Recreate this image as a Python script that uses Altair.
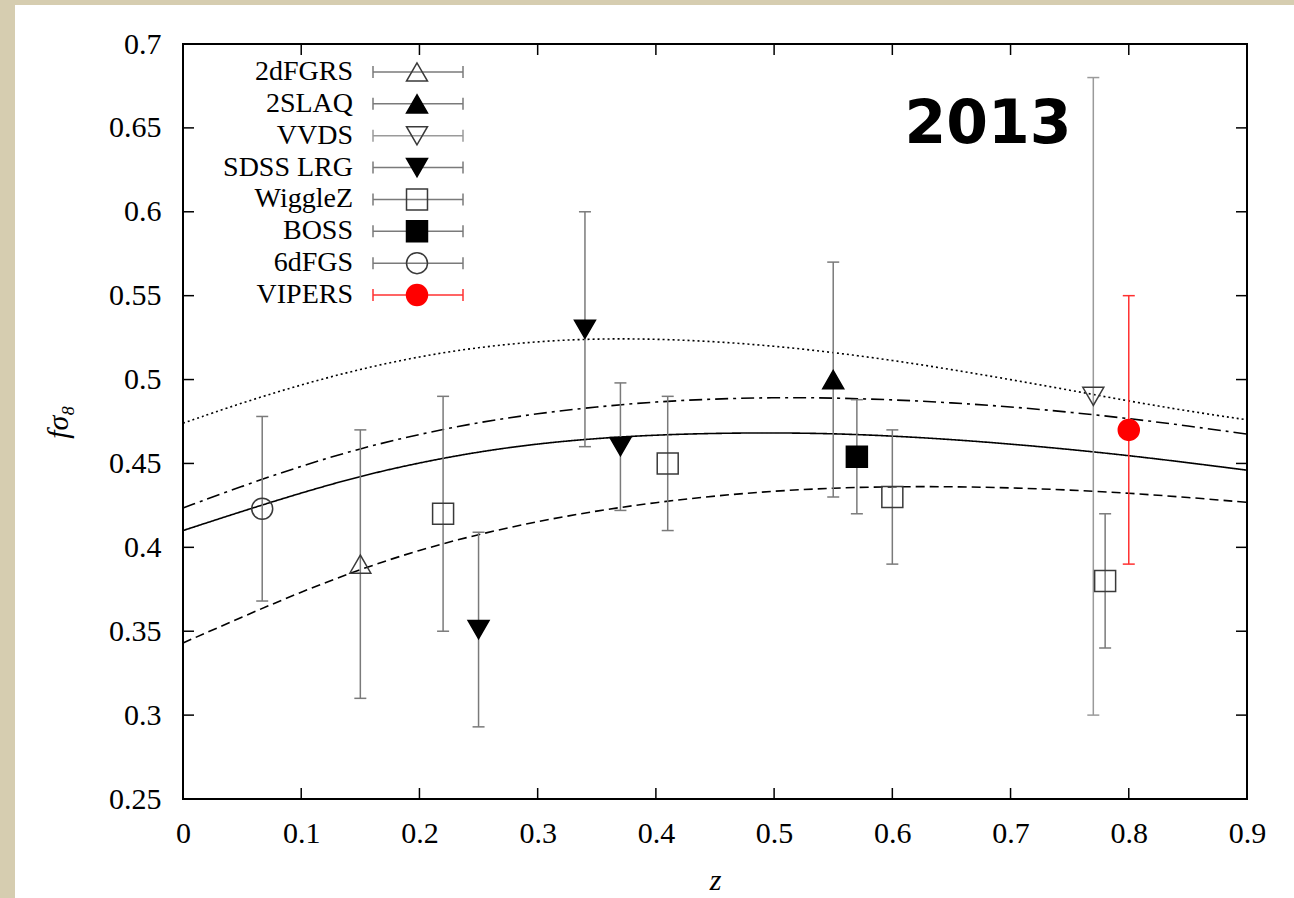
import altair as alt
import pandas as pd

# ---------------- data ----------------
names = ["2dFGRS", "2SLAQ", "VVDS", "SDSS LRG", "WiggleZ", "BOSS", "6dFGS", "VIPERS"]
shapes = ["triangle-up", "triangle-up", "triangle-down", "triangle-down",
          "square", "square", "circle", "circle"]

pt_survey = ["6dFGS", "2dFGRS", "WiggleZ", "SDSS LRG", "SDSS LRG", "SDSS LRG", "WiggleZ",
             "2SLAQ", "BOSS", "WiggleZ", "VVDS", "WiggleZ", "VIPERS"]
pt_z = [0.067, 0.15, 0.22, 0.25, 0.34, 0.37, 0.41, 0.55, 0.57, 0.60, 0.77, 0.78, 0.80]
pt_f = [0.423, 0.39, 0.42, 0.351, 0.53, 0.460, 0.45, 0.50, 0.454, 0.43, 0.49, 0.38, 0.47]
pt_lo = [0.368, 0.31, 0.35, 0.293, 0.46, 0.422, 0.41, 0.43, 0.420, 0.39, 0.30, 0.34, 0.39]
pt_hi = [0.478, 0.47, 0.49, 0.409, 0.60, 0.498, 0.49, 0.57, 0.488, 0.47, 0.68, 0.42, 0.55]

curve_z = [0, 0.05, 0.1, 0.15, 0.2, 0.25, 0.3, 0.35, 0.4, 0.45, 0.5,
           0.55, 0.6, 0.65, 0.7, 0.75, 0.8, 0.85, 0.9]
curve_solid = [0.410, 0.4215, 0.4325, 0.4425, 0.4505, 0.457, 0.4618, 0.465, 0.467, 0.468, 0.4683,
               0.4678, 0.4664, 0.4643, 0.4616, 0.4584, 0.4547, 0.4505, 0.446]
curve_dashdot = [0.4235, 0.4365, 0.4485, 0.459, 0.4675, 0.4745, 0.4798, 0.4838, 0.4868, 0.4885, 0.4893,
                 0.4891, 0.4880, 0.4862, 0.4838, 0.4806, 0.4768, 0.4724, 0.4675]
curve_dotted = [0.474, 0.4862, 0.4970, 0.5063, 0.5138, 0.5193, 0.5228, 0.5244, 0.5242, 0.5227, 0.5200,
                0.5162, 0.5115, 0.5060, 0.5000, 0.4937, 0.4872, 0.4812, 0.4760]
curve_dashed = [0.343, 0.3585, 0.3735, 0.3870, 0.3985, 0.4078, 0.4155, 0.4218, 0.4268, 0.4307, 0.4336,
                0.4354, 0.4362, 0.4362, 0.4355, 0.4342, 0.4323, 0.4298, 0.4268]

x_ticks = [0, 0.1, 0.2, 0.3, 0.4, 0.5, 0.6, 0.7, 0.8, 0.9]
y_ticks = [0.25, 0.3, 0.35, 0.4, 0.45, 0.5, 0.55, 0.6, 0.65, 0.7]

# ---------------- tables ----------------
pts = pd.DataFrame({"survey": pt_survey, "z": pt_z, "f": pt_f, "lo": pt_lo, "hi": pt_hi})
curves = pd.DataFrame({
    "z": curve_z * 4,
    "f": curve_solid + curve_dashdot + curve_dotted + curve_dashed,
    "model": ["solid"] * len(curve_z) + ["dashdot"] * len(curve_z)
             + ["dotted"] * len(curve_z) + ["dashed"] * len(curve_z),
})
leg = pd.DataFrame({"survey": names, "row": list(range(len(names)))})
xt = pd.DataFrame({"z": x_ticks})
yt = pd.DataFrame({"v": y_ticks})
one = pd.DataFrame({"a": [0]})

# ---------------- layout / style ----------------
W, H = 1064, 755
SERIF = "Liberation Serif"
xscale = alt.Scale(domain=[0, 0.9], nice=False, zero=False)
yscale = alt.Scale(domain=[0.25, 0.7], nice=False, zero=False)

xaxis = alt.Axis(values=x_ticks, format=".1~f", title="z", titleFont=SERIF,
                 titleFontStyle="italic", titleFontWeight="normal", titleFontSize=30,
                 titleColor="black", titleX=W / 2, titleY=90, titleBaseline="alphabetic",
                 labelFlush=False, domain=False, ticks=False, grid=False, labelPadding=19,
                 labelFont=SERIF, labelFontSize=30, labelColor="black", zindex=2)
yaxis = alt.Axis(values=y_ticks, format=".2~f", title="fσ₈", titleFont=SERIF,
                 titleFontStyle="italic", titleFontWeight="normal", titleFontSize=30,
                 titleColor="black", titleX=-116, titleY=H / 2, titleAngle=270,
                 titleAlign="center", titleBaseline="alphabetic",
                 domain=False, ticks=False, grid=False, labelPadding=22,
                 labelFont=SERIF, labelFontSize=30, labelColor="black", zindex=2)

X = alt.X("z:Q", scale=xscale, axis=xaxis)

shape_scale = alt.Scale(domain=names, range=shapes)
fill_scale = alt.Scale(domain=names, range=["transparent", "black", "transparent", "black",
                                            "transparent", "black", "transparent", "#ff0000"])
stroke_scale = alt.Scale(domain=names, range=["#3a3a3a", "black", "#3a3a3a", "black",
                                              "#3a3a3a", "black", "#3a3a3a", "#ff0000"])
size_scale = alt.Scale(domain=names, range=[440, 440, 440, 440, 500, 500, 500, 580])
err_color = alt.Scale(domain=names, range=["#7a7a7a", "#7a7a7a", "#9a9a9a", "#7a7a7a",
                                           "#7a7a7a", "#7a7a7a", "#7a7a7a", "#ff3030"])
err_width = alt.Scale(domain=names, range=[1.5, 1.5, 2.6, 1.5, 1.5, 1.5, 1.5, 1.1])

# ---------------- layers ----------------
bg = alt.Chart(one).mark_rect(color="white").encode(
    x=alt.value(-168), x2=alt.value(1111), y=alt.value(-39), y2=alt.value(854))

curve_layer = alt.Chart(curves).mark_line(color="black", strokeWidth=1.6,
                                          interpolate="basis").encode(
    x=X,
    y=alt.Y("f:Q", scale=yscale, axis=yaxis),
    detail="model:N",
    strokeDash=alt.StrokeDash("model:N", legend=None, scale=alt.Scale(
        domain=["solid", "dashdot", "dotted", "dashed"],
        range=[[1, 0], [13, 5, 3, 5], [2, 3], [9, 5]])),
)

Yp = lambda f: alt.Y(f, scale=yscale, axis=None)

err = alt.Chart(pts).mark_rule().encode(
    x=X, y=Yp("lo:Q"), y2="hi:Q",
    color=alt.Color("survey:N", scale=err_color, legend=None),
    strokeWidth=alt.StrokeWidth("survey:N", scale=err_width, legend=None))
cap_hi = alt.Chart(pts).mark_rule(xOffset=-6, x2Offset=6).encode(
    x=X, x2="z:Q", y=Yp("hi:Q"),
    color=alt.Color("survey:N", scale=err_color, legend=None),
    strokeWidth=alt.StrokeWidth("survey:N", scale=err_width, legend=None))
cap_lo = alt.Chart(pts).mark_rule(xOffset=-6, x2Offset=6).encode(
    x=X, x2="z:Q", y=Yp("lo:Q"),
    color=alt.Color("survey:N", scale=err_color, legend=None),
    strokeWidth=alt.StrokeWidth("survey:N", scale=err_width, legend=None))

marks = alt.Chart(pts).mark_point(opacity=1, fillOpacity=1, strokeWidth=1.5).encode(
    x=X, y=Yp("f:Q"),
    shape=alt.Shape("survey:N", scale=shape_scale, legend=None),
    fill=alt.Fill("survey:N", scale=fill_scale, legend=None),
    stroke=alt.Stroke("survey:N", scale=stroke_scale, legend=None),
    size=alt.Size("survey:N", scale=size_scale, legend=None))

# inward ticks on all four sides
TL = 11
tick_kw = dict(color="black", strokeWidth=1.5)
t_left = alt.Chart(yt).mark_rule(**tick_kw).encode(
    y=Yp("v:Q"), x=alt.value(0), x2=alt.value(TL))
t_right = alt.Chart(yt).mark_rule(**tick_kw).encode(
    y=Yp("v:Q"), x=alt.value(W - TL), x2=alt.value(W))
t_bottom = alt.Chart(xt).mark_rule(**tick_kw).encode(
    x=X, y=alt.value(H - TL), y2=alt.value(H))
t_top = alt.Chart(xt).mark_rule(**tick_kw).encode(
    x=X, y=alt.value(0), y2=alt.value(TL))

# legend (own vertical scale, pixel range inside the plot)
LY = alt.Y("row:Q", scale=alt.Scale(domain=[0, 7], range=[28, 251]), axis=None)
leg_text = alt.Chart(leg).mark_text(align="right", baseline="middle", font=SERIF,
                                    fontSize=28, color="black").encode(
    x=alt.value(170), y=LY, text="survey:N")
leg_line = alt.Chart(leg).mark_rule(strokeWidth=1.5).encode(
    x=alt.value(190), x2=alt.value(280), y=LY,
    color=alt.Color("survey:N", scale=err_color, legend=None))
leg_cap1 = alt.Chart(leg).mark_rule(strokeWidth=1.5, yOffset=-6, y2Offset=6).encode(
    x=alt.value(190), y=LY, y2="row:Q",
    color=alt.Color("survey:N", scale=err_color, legend=None))
leg_cap2 = alt.Chart(leg).mark_rule(strokeWidth=1.5, yOffset=-6, y2Offset=6).encode(
    x=alt.value(280), y=LY, y2="row:Q",
    color=alt.Color("survey:N", scale=err_color, legend=None))
leg_mark = alt.Chart(leg).mark_point(opacity=1, fillOpacity=1, strokeWidth=1.5).encode(
    x=alt.value(234), y=LY,
    shape=alt.Shape("survey:N", scale=shape_scale, legend=None),
    fill=alt.Fill("survey:N", scale=fill_scale, legend=None),
    stroke=alt.Stroke("survey:N", scale=stroke_scale, legend=None),
    size=alt.Size("survey:N", scale=size_scale, legend=None))

year = alt.Chart(one).mark_text(text="2013", font="DejaVu Sans", fontWeight="bold",
                                fontSize=60, color="black", align="center",
                                baseline="alphabetic").encode(
    x=alt.value(805), y=alt.value(99))

frame = alt.Chart(one).mark_rect(fillOpacity=0, stroke="black", strokeWidth=2).encode(
    x=alt.value(0), x2=alt.value(W), y=alt.value(0), y2=alt.value(H))

chart = alt.layer(
    bg, curve_layer, err, cap_hi, cap_lo, marks,
    t_left, t_right, t_bottom, t_top,
    leg_line, leg_cap1, leg_cap2, leg_mark, leg_text,
    year, frame,
).resolve_scale(y="independent").properties(
    width=W, height=H,
    autosize=alt.AutoSizeParams(type="none"),
    padding={"left": 183, "top": 44, "right": 47, "bottom": 99},
    background="#d6cdb0",
).configure_view(stroke="transparent")

chart.save("out.html", embed_options={"renderer": "svg", "actions": False})
